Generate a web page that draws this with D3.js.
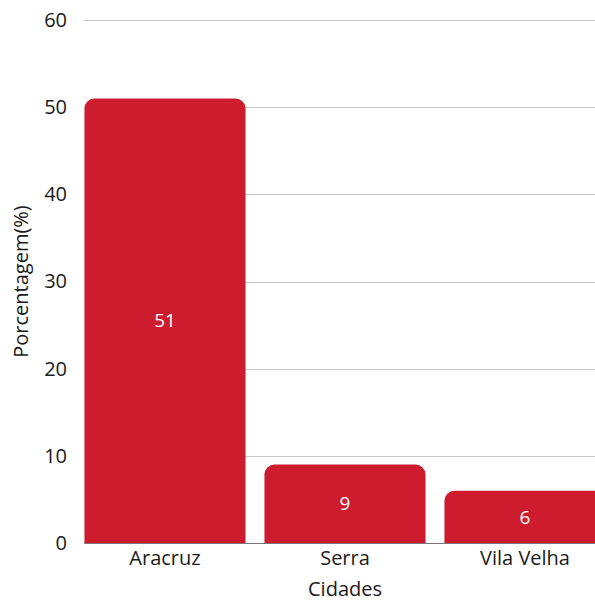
<!DOCTYPE html>
<html>
<head>
<meta charset="utf-8">
<script src="https://cdn.jsdelivr.net/npm/d3@7"></script>
<style>
    html, body { margin: 0; padding: 0; background: #fff; }
    svg { display: block; font-family: "Open Sans", sans-serif; }
</style>
</head>
<body>
<svg id="chart" width="595" height="602"></svg>
<script>
var cities = ["Aracruz", "Serra", "Vila Velha"];
var percent = [51, 9, 6];
var yTicks = [0, 10, 20, 30, 40, 50, 60];

var canvas = d3.select("#chart"),
    width = 595,
    height = 602,
    margins = {"left": 84, "right": -20, "top": 20, "bottom": 59};

var data = cities.map((c, i) => ({"city": c, "value": percent[i]}));

var x = d3.scaleBand().domain(cities)
        .range([75, 615]).paddingInner(0.105).paddingOuter(0.0525),
    y = d3.scaleLinear().domain([0, 60]).range([height - margins.bottom, margins.top]);

// grid
canvas.append("g").selectAll("line").data(yTicks.filter(d => d > 0)).enter()
    .append("line")
    .attr("x1", margins.left).attr("x2", width)
    .attr("y1", d => Math.round(y(d)) + 0.5).attr("y2", d => Math.round(y(d)) + 0.5)
    .attr("stroke", "#c8c8c8").attr("stroke-width", 1);

// baseline
canvas.append("line")
    .attr("x1", margins.left).attr("x2", width)
    .attr("y1", Math.round(y(0)) + 0.5).attr("y2", Math.round(y(0)) + 0.5)
    .attr("stroke", "#777").attr("stroke-width", 1);

// y axis labels
var yaxis = canvas.append("g").attr("transform", "translate(" + [67, 0] + ")")
    .call(d3.axisLeft(y).tickValues(yTicks).tickSize(0).tickPadding(0));
yaxis.select(".domain").remove();
yaxis.selectAll("text").attr("font-size", "20px").attr("fill", "#1a1a1a")
    .attr("font-family", "Open Sans, sans-serif");

// bars with rounded top corners
function barPath(x0, y0, w, h, r) {
    r = Math.min(r, h, w / 2);
    return "M" + x0 + "," + (y0 + h) +
        "V" + (y0 + r) +
        "A" + r + "," + r + " 0 0 1 " + (x0 + r) + "," + y0 +
        "H" + (x0 + w - r) +
        "A" + r + "," + r + " 0 0 1 " + (x0 + w) + "," + (y0 + r) +
        "V" + (y0 + h) + "Z";
}

canvas.append("g").selectAll("path").data(data).enter()
    .append("path")
    .attr("d", d => barPath(x(d.city), y(d.value), x.bandwidth(), y(0) - y(d.value), 10))
    .attr("fill", "#cc1c2e");

canvas.append("g").selectAll("text").data(data).enter()
    .append("text")
    .attr("x", d => x(d.city) + x.bandwidth() / 2)
    .attr("y", d => (y(d.value) + y(0)) / 2)
    .attr("dy", "0.35em")
    .attr("text-anchor", "middle")
    .attr("font-size", "19px")
    .attr("fill", "#fff")
    .text(d => d.value);

// x axis labels
var xaxis = canvas.append("g").attr("transform", "translate(" + [0, y(0) + 8] + ")")
    .call(d3.axisBottom(x).tickSize(0).tickPadding(0));
xaxis.select(".domain").remove();
xaxis.selectAll("text").attr("font-size", "20px").attr("fill", "#1a1a1a")
    .attr("font-family", "Open Sans, sans-serif");

// axis titles
canvas.append("text").attr("x", 345).attr("y", 596)
    .attr("text-anchor", "middle").attr("font-size", "20px").attr("fill", "#1a1a1a")
    .text("Cidades");

canvas.append("text")
    .attr("transform", "translate(" + [28, (y(0) + y(60)) / 2] + ") rotate(-90)")
    .attr("text-anchor", "middle").attr("font-size", "20px").attr("fill", "#1a1a1a")
    .text("Porcentagem(%)");
</script>
</body>
</html>
